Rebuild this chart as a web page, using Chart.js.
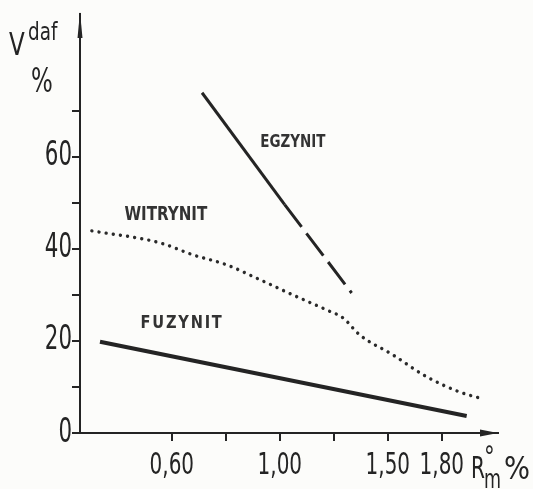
<!DOCTYPE html>
<html>
<head>
<meta charset="utf-8">
<script src="https://cdn.jsdelivr.net/npm/chart.js@4"></script>
<style>
  html, body { margin: 0; background: #fcfcfa; }
</style>
</head>
<body>
<canvas id="myChart" width="533" height="489"></canvas>
<script>
const ctx = document.getElementById('myChart');

// the R axis is not linear: ticks are equally spaced slots, x values are slot positions
const xTickPos = [0, 1, 2, 3, 4, 5];
const xTickLabels = ['0,60', '', '1,00', '', '1,50', '1,80'];
const yTickPos = [0, 10, 20, 30, 40, 50, 60, 70];
const yTickLabels = ['0', '', '20', '', '40', '', '60', ''];

const egzynitX = [0.56, 2.09, 3.33];
const egzynitY = [73.9, 49.6, 30.4];

const witrynitX = [-1.48, -0.22, 0.39, 1.02, 1.63, 2.24, 2.87, 3.17, 3.48, 4.09, 4.72, 5.33, 5.76];
const witrynitY = [43.9, 41.3, 38.7, 36.5, 33.3, 30.0, 26.7, 25.0, 21.3, 17.0, 12.2, 8.9, 7.4];

const fuzynitX = [-1.33, 5.46];
const fuzynitY = [19.8, 3.7];

// curve names written inside the plot
const labelNames = ['EGZYNIT', 'WITRYNIT', 'FUZYNIT'];
const labelX = [2.24, -0.11, 0.19];
const labelY = [63, 47.4, 23.9];

const FONT = "'DejaVu Sans Condensed', 'DejaVu Sans', sans-serif";
const INK = '#242424';

function pts(xs, ys) {
  return xs.map((x, i) => ({ x: x, y: ys[i] }));
}

// the scanned lettering is very narrow, so squeeze text horizontally
function squeezed(c, text, x, y, font, sx, align, base) {
  c.save();
  c.font = font;
  c.textAlign = align || 'left';
  c.textBaseline = base || 'alphabetic';
  c.translate(x, y);
  c.scale(sx, 1);
  c.fillText(text, 0, 0);
  c.restore();
}

const decor = {
  id: 'decor',
  afterDraw(chart) {
    const c = chart.ctx;
    const a = chart.chartArea;
    const xs = chart.scales.x, ys = chart.scales.y;
    c.save();
    c.fillStyle = INK;

    // arrow on top of y axis
    c.beginPath();
    c.moveTo(a.left, a.top - 2);
    c.lineTo(a.left - 2.5, a.top + 24);
    c.lineTo(a.left + 2.5, a.top + 24);
    c.closePath();
    c.fill();
    // arrow at end of x axis
    c.beginPath();
    c.moveTo(a.right, a.bottom);
    c.lineTo(a.right - 18, a.bottom - 3.5);
    c.lineTo(a.right - 18, a.bottom + 3.5);
    c.closePath();
    c.fill();

    // tick labels
    yTickPos.forEach((v, i) => {
      if (!yTickLabels[i]) return;
      squeezed(c, yTickLabels[i], a.left - 8, ys.getPixelForValue(v), '33px ' + FONT, 0.72, 'right', 'middle');
    });
    xTickPos.forEach((v, i) => {
      if (!xTickLabels[i]) return;
      squeezed(c, xTickLabels[i], xs.getPixelForValue(v), a.bottom + 41, '30px ' + FONT, 0.74, 'center');
    });

    // axis titles
    squeezed(c, 'V', 9, 55, '32px ' + FONT, 0.8);
    squeezed(c, 'daf', 28, 40, '24px ' + FONT, 0.85);
    squeezed(c, '%', 31, 92, '34px ' + FONT, 0.75);

    squeezed(c, 'R', 471, 478, '31px ' + FONT, 0.72);
    squeezed(c, '°', 484, 466, '28px ' + FONT, 0.85);
    squeezed(c, 'm', 484, 488, '27px ' + FONT, 0.72);
    squeezed(c, '%', 504, 479, '32px ' + FONT, 0.95);

    // curve names
    c.fillStyle = '#333';
    const sizes = [17, 20, 18];
    const sx = [0.88, 0.84, 0.9];
    labelNames.forEach((t, i) => {
      if ('letterSpacing' in c) c.letterSpacing = i === 2 ? '2px' : '0px';
      squeezed(c, t, xs.getPixelForValue(labelX[i]), ys.getPixelForValue(labelY[i]),
        'bold ' + sizes[i] + 'px ' + FONT, sx[i], 'center', 'middle');
    });
    c.restore();
  }
};

new Chart(ctx, {
  type: 'line',
  data: {
    datasets: [
      {
        label: 'EGZYNIT',
        data: pts(egzynitX, egzynitY),
        borderColor: INK,
        borderWidth: 3,
        pointRadius: 0,
        segment: {
          borderDash: s => s.p0DataIndex >= 1 ? [28, 8] : undefined
        }
      },
      {
        label: 'WITRYNIT',
        data: pts(witrynitX, witrynitY),
        borderColor: '#2a2a2a',
        borderWidth: 3.4,
        borderDash: [0.01, 7.2],
        borderCapStyle: 'round',
        cubicInterpolationMode: 'monotone',
        pointRadius: 0
      },
      {
        label: 'FUZYNIT',
        data: pts(fuzynitX, fuzynitY),
        borderColor: INK,
        borderWidth: 4,
        pointRadius: 0
      }
    ]
  },
  options: {
    responsive: false,
    animation: false,
    layout: { padding: { top: 14, right: 35, left: 0, bottom: 0 } },
    plugins: { legend: { display: false }, tooltip: { enabled: false } },
    scales: {
      x: {
        type: 'linear',
        min: -1.7,
        max: 6.04,
        afterBuildTicks: s => { s.ticks = xTickPos.map(v => ({ value: v })); },
        afterFit: s => { s.height = 56; },
        ticks: { display: false },
        grid: { display: true, drawOnChartArea: false, drawTicks: true, tickLength: 8, color: INK, lineWidth: 2 },
        border: { display: true, color: INK, width: 2 }
      },
      y: {
        type: 'linear',
        min: 0,
        max: 91,
        afterBuildTicks: s => { s.ticks = yTickPos.map(v => ({ value: v })); },
        afterFit: s => { s.width = 80; },
        ticks: { display: false },
        grid: { display: true, drawOnChartArea: false, drawTicks: true, tickLength: 8, color: INK, lineWidth: 2 },
        border: { display: true, color: INK, width: 2 }
      }
    }
  },
  plugins: [decor]
});
</script>
</body>
</html>
